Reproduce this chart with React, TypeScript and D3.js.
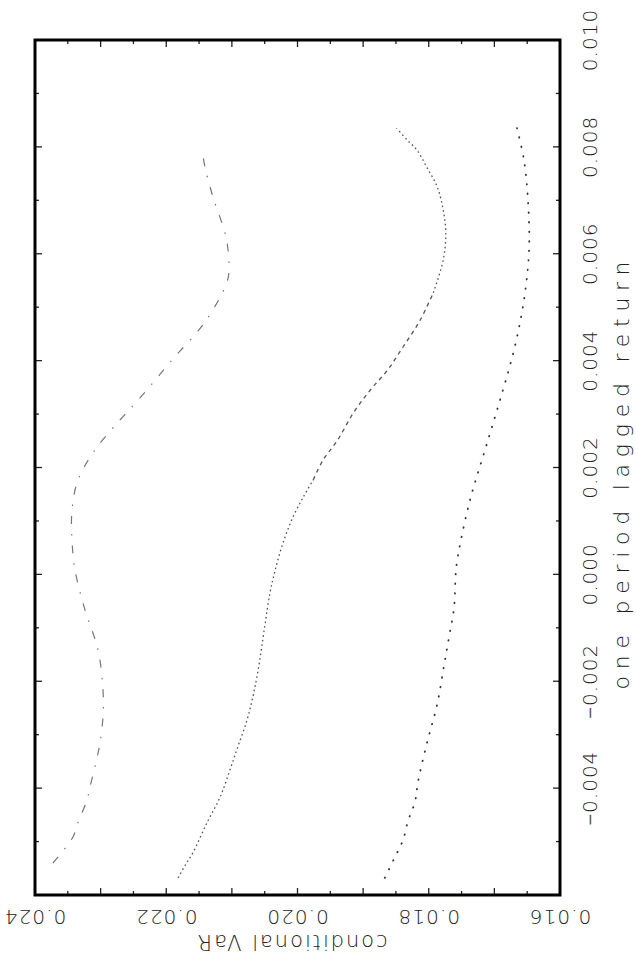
import React from "react";
import * as d3 from "d3";

// lagged return (horizontal axis of the original plot, drawn vertically here)
const returnTicks = [-0.004, -0.002, 0.0, 0.002, 0.004, 0.006, 0.008, 0.01];
const varTicks = [0.016, 0.018, 0.02, 0.022, 0.024];

// middle curve (fine dotted / dashed)
const retA = [-0.00568, -0.00544, -0.0052, -0.00465, -0.00417, -0.00366, -0.00323, -0.00273, -0.00229, -0.00179, -0.00098, -0.00035, 0.00008, 0.00059, 0.00107, 0.00145, 0.00177, 0.00214, 0.00251, 0.00302, 0.00345, 0.00382, 0.00426, 0.00476, 0.00527, 0.00588, 0.00639, 0.00682, 0.00725, 0.00762, 0.00794, 0.00813, 0.00835];
const varA = [0.02182, 0.02171, 0.02159, 0.02138, 0.02118, 0.02103, 0.02091, 0.02077, 0.02068, 0.0206, 0.0205, 0.02042, 0.02034, 0.02022, 0.02007, 0.01991, 0.01976, 0.01961, 0.01939, 0.01915, 0.01889, 0.01863, 0.01839, 0.01813, 0.01793, 0.01778, 0.01774, 0.01778, 0.01787, 0.01803, 0.01818, 0.01833, 0.01849];

// right curve (coarse dotted)
const retB = [-0.00568, -0.005326, -0.00497, -0.004615, -0.004259, -0.003885, -0.003155, -0.002444, -0.001714, -0.001172, -0.000629, 0.000082, 0.000456, 0.001392, 0.002328, 0.003263, 0.004199, 0.005135, 0.00607, 0.007006, 0.007754, 0.00835];
const varB = [0.01867, 0.01853, 0.018392, 0.018316, 0.01821, 0.018164, 0.018027, 0.017874, 0.017768, 0.017691, 0.017615, 0.017585, 0.017539, 0.017371, 0.017143, 0.016914, 0.016701, 0.016549, 0.016472, 0.016488, 0.016549, 0.016655];

// left curve (dash-dot)
const retC = [-0.005401, -0.004914, -0.00469, -0.004222, -0.003979, -0.003436, -0.003155, -0.002669, -0.002163, -0.001415, -0.000666, 0.000082, 0.000643, 0.001205, 0.001766, 0.002328, 0.002889, 0.003301, 0.004012, 0.004723, 0.005471, 0.005752, 0.006314, 0.007062, 0.007623, 0.007942];
const varC = [0.023726, 0.023421, 0.02336, 0.023208, 0.023162, 0.023055, 0.02301, 0.022964, 0.022964, 0.02304, 0.023238, 0.02339, 0.023436, 0.023436, 0.023345, 0.023086, 0.022705, 0.0224, 0.021912, 0.02141, 0.021074, 0.021044, 0.02109, 0.021288, 0.02141, 0.021455];

const W = 636;
const H = 970;
const TOP = 40;
const BOTTOM = 895;
const LEFT = 35;
const RIGHT = 560;

export default function App() {
  const rScale = d3.scaleLinear().domain([-0.006, 0.01]).range([BOTTOM, TOP]);
  const vScale = d3.scaleLinear().domain([0.016, 0.024]).range([RIGHT, LEFT]);
  const fmt = d3.format(".3f");

  const line = d3
    .line<[number, number]>()
    .x((d) => vScale(d[1]))
    .y((d) => rScale(d[0]))
    .curve(d3.curveCatmullRom);

  const zip = (a: number[], b: number[]) => a.map((v, i) => [v, b[i]] as [number, number]);
  const ptsA = zip(retA, varA);
  // split the middle curve into sections drawn with different dash patterns
  const aLow = ptsA.filter((d) => d[0] <= 0.00177);
  const aMid = ptsA.filter((d) => d[0] >= 0.00177 && d[0] <= 0.00527);
  const aTop = ptsA.filter((d) => d[0] >= 0.00527);

  const vMinor = d3.range(0.0165, 0.0240, 0.0005);
  const rMinor = d3.range(-0.005, 0.01, 0.001);
  const font = "'DejaVu Sans', sans-serif";

  const label = (v: number) => {
    const s = fmt(v);
    if (s[0] === "−" || s[0] === "-") {
      return (
        <>
          <tspan fontFamily="'Liberation Sans', sans-serif" fontWeight={400} fill="#555">
            {"\u2212"}
          </tspan>
          {s.slice(1)}
        </>
      );
    }
    return s;
  };

  return (
    <svg
      width={W}
      height={H}
      style={{ position: "absolute", left: 0, top: 0, background: "#fff" }}
    >
      <rect x={0} y={0} width={W} height={H} fill="#fff" />
      {/* ticks on top & bottom frame (VaR) */}
      {vMinor.map((v, i) => {
        const x = vScale(v);
        const major = Math.abs(Math.round(v * 1000) - v * 1000) < 1e-6;
        const len = major ? 7 : 4;
        return (
          <g key={"vt" + i} stroke="#222" strokeWidth={1.3}>
            <line x1={x} x2={x} y1={BOTTOM} y2={BOTTOM - len} />
            <line x1={x} x2={x} y1={TOP} y2={TOP + len} />
          </g>
        );
      })}
      {/* ticks on left & right frame (return) */}
      {rMinor.map((r, i) => {
        const y = rScale(r);
        const major = Math.abs(Math.round(r * 500) - r * 500) < 1e-6;
        const len = major ? 7 : 4;
        return (
          <g key={"rt" + i} stroke="#222" strokeWidth={1.3}>
            <line x1={LEFT} x2={LEFT + len} y1={y} y2={y} />
            <line x1={RIGHT} x2={RIGHT - len} y1={y} y2={y} />
          </g>
        );
      })}
      {/* curves */}
      <path d={line(aLow) || ""} fill="none" stroke="#555" strokeWidth={1.3} strokeDasharray="1.6,3" />
      <path d={line(aMid) || ""} fill="none" stroke="#555" strokeWidth={1.3} strokeDasharray="4,4" />
      <path d={line(aTop) || ""} fill="none" stroke="#555" strokeWidth={1.3} strokeDasharray="1.6,3" />
      <path
        d={line(zip(retB, varB)) || ""}
        fill="none"
        stroke="#333"
        strokeWidth={1.8}
        strokeLinecap="round"
        strokeDasharray="0.5,9"
      />
      <path
        d={line(zip(retC, varC)) || ""}
        fill="none"
        stroke="#777"
        strokeWidth={1.2}
        strokeDasharray="8,10,1.5,10"
      />
      {/* frame */}
      <rect
        x={LEFT}
        y={TOP}
        width={RIGHT - LEFT}
        height={BOTTOM - TOP}
        fill="none"
        stroke="#000"
        strokeWidth={3}
      />
      {/* return tick labels (rotated -90) */}
      {returnTicks.map((r, i) => (
        <text
          key={"rl" + i}
          transform={`translate(597,${rScale(r)}) rotate(-90)`}
          textAnchor="middle"
          fontFamily={font}
          fontWeight={200}
          fontSize={20}
          letterSpacing={1}
          fill="#222"
        >
          {label(r)}
        </text>
      ))}
      <text
        transform={`translate(629,${(TOP + BOTTOM) / 2 + 8}) rotate(-90)`}
        textAnchor="middle"
        fontFamily={font}
        fontWeight={200}
        fontSize={22}
        textLength={428}
        lengthAdjust="spacing"
        fill="#222"
      >
        one period lagged return
      </text>
      {/* VaR tick labels (upside down) */}
      {varTicks.map((v, i) => (
        <text
          key={"vl" + i}
          transform={`translate(${vScale(v)},910) rotate(180)`}
          textAnchor="middle"
          fontFamily={font}
          fontWeight={200}
          fontSize={20}
          letterSpacing={1}
          fill="#222"
        >
          {label(v)}
        </text>
      ))}
      <text
        transform={`translate(${(LEFT + RIGHT) / 2 - 5},935) rotate(180)`}
        textAnchor="middle"
        fontFamily={font}
        fontWeight={200}
        fontSize={21}
        textLength={190}
        lengthAdjust="spacing"
        fill="#222"
      >
        conditional VaR
      </text>
    </svg>
  );
}
